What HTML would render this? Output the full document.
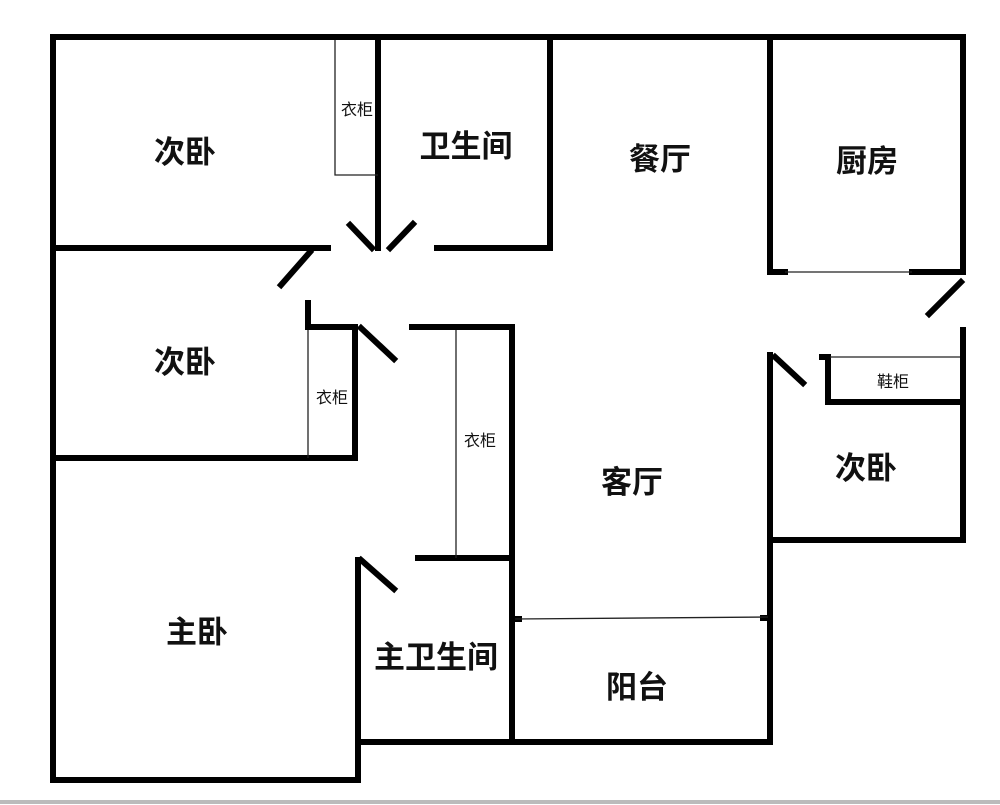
<!DOCTYPE html>
<html><head><meta charset="utf-8"><style>
html,body{margin:0;padding:0;background:#fff;width:1000px;height:805px;overflow:hidden}
svg text{font-family:"Liberation Sans","Noto Sans CJK SC",sans-serif;font-weight:bold;fill:#111}
</style></head><body>
<svg width="1000" height="805" viewBox="0 0 1000 805" xmlns="http://www.w3.org/2000/svg">
<rect width="1000" height="805" fill="#fff"/>
<g stroke="#000" stroke-width="6" fill="none" stroke-linecap="square">
<polyline points="53,780 53,37 963,37 963,272"/>
<line x1="963" y1="330" x2="963" y2="540"/>
<polyline points="53,780 358,780 358,560"/>
<polyline points="358,742 770,742 770,355"/>
<line x1="770" y1="540" x2="963" y2="540"/>
<polyline points="770,37 770,272 785,272"/>
<line x1="912" y1="272" x2="963" y2="272"/>
<polyline points="822,357 828,357 828,402 963,402"/>
<line x1="53" y1="248" x2="328" y2="248"/>
<line x1="378" y1="37" x2="378" y2="248"/>
<line x1="437" y1="248" x2="550" y2="248"/>
<line x1="550" y1="37" x2="550" y2="248"/>
<polyline points="308,303 308,327 355,327 355,458 53,458"/>
<polyline points="412,327 512,327 512,742"/>
<line x1="418" y1="558" x2="512" y2="558"/>
<line x1="310" y1="252" x2="281" y2="285"/>
<line x1="350" y1="225" x2="372" y2="248"/>
<line x1="413" y1="224" x2="390" y2="248"/>
<line x1="361" y1="328" x2="394" y2="359"/>
<line x1="361" y1="560" x2="394" y2="589"/>
<line x1="775" y1="357" x2="803" y2="383"/>
<line x1="961" y1="282" x2="929" y2="314"/>
<line x1="516" y1="619" x2="519" y2="619"/>
<line x1="763" y1="618" x2="766" y2="618"/>
</g>
<g stroke="#222" stroke-width="1.3" fill="none">
<polyline points="378,175 335,175 335,40"/>
<line x1="785" y1="272" x2="912" y2="272"/>
<line x1="830" y1="357" x2="960" y2="357"/>
<line x1="308" y1="330" x2="308" y2="458"/>
<line x1="456" y1="330" x2="456" y2="558"/>
<line x1="515" y1="619" x2="768" y2="617"/>
</g>
<line x1="0" y1="802" x2="1000" y2="802" stroke="#bbb" stroke-width="4"/>
<g font-size="31" text-anchor="middle">
<text x="185" y="163">次卧</text>
<text x="466" y="157">卫生间</text>
<text x="660" y="170">餐厅</text>
<text x="867" y="172">厨房</text>
<text x="185" y="373">次卧</text>
<text x="632" y="493">客厅</text>
<text x="866" y="479">次卧</text>
<text x="197" y="643">主卧</text>
<text x="436" y="668">主卫生间</text>
<text x="637" y="698">阳台</text>
</g>
<g font-size="16" text-anchor="middle">
<text x="357" y="115" style="font-weight:normal">衣柜</text>
<text x="332" y="403" style="font-weight:normal">衣柜</text>
<text x="480" y="446" style="font-weight:normal">衣柜</text>
<text x="893" y="387" style="font-weight:normal">鞋柜</text>
</g>
</svg>
</body></html>
